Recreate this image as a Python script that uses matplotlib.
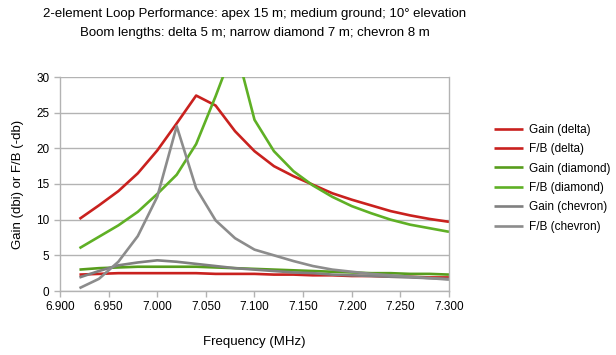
import matplotlib
matplotlib.use("Agg")
import matplotlib.pyplot as plt
import numpy as np

plt.rcParams['font.family'] = ['Liberation Sans', 'DejaVu Sans']

freq = [6.92, 6.94, 6.96, 6.98, 7.00, 7.02, 7.04, 7.06, 7.08, 7.10,
        7.12, 7.14, 7.16, 7.18, 7.20, 7.22, 7.24, 7.26, 7.28, 7.30]

gain_delta = [2.3, 2.4, 2.5, 2.5, 2.5, 2.5, 2.5, 2.4, 2.4, 2.4,
              2.3, 2.3, 2.2, 2.2, 2.1, 2.1, 2.0, 2.0, 1.9, 1.9]
fb_delta = [10.1, 12.0, 14.0, 16.5, 19.7, 23.5, 27.4, 26.0, 22.4, 19.6,
            17.5, 16.1, 14.9, 13.7, 12.8, 12.0, 11.2, 10.6, 10.1, 9.7]
gain_diamond = [3.0, 3.2, 3.3, 3.4, 3.4, 3.4, 3.4, 3.3, 3.2, 3.1,
                3.0, 2.9, 2.8, 2.7, 2.6, 2.5, 2.5, 2.4, 2.4, 2.3]
fb_diamond = [6.0, 7.6, 9.2, 11.1, 13.6, 16.3, 20.6, 27.3, 34.5, 24.0,
              19.6, 16.8, 14.8, 13.2, 11.9, 10.9, 10.0, 9.3, 8.8, 8.3]
gain_chevron = [1.9, 2.8, 3.6, 4.0, 4.3, 4.1, 3.8, 3.5, 3.2, 3.0,
                2.8, 2.6, 2.5, 2.3, 2.2, 2.1, 2.0, 1.9, 1.8, 1.7]
fb_chevron = [0.4, 1.7, 4.1, 7.7, 13.2, 23.1, 14.4, 9.9, 7.4, 5.8,
              5.0, 4.2, 3.5, 3.0, 2.7, 2.4, 2.2, 2.0, 1.8, 1.6]

series = [
    ("Gain (delta)", gain_delta, "#c9211e"),
    ("F/B (delta)", fb_delta, "#c9211e"),
    ("Gain (diamond)", gain_diamond, "#579d1c"),
    ("F/B (diamond)", fb_diamond, "#5fb025"),
    ("Gain (chevron)", gain_chevron, "#808080"),
    ("F/B (chevron)", fb_chevron, "#8c8c8c"),
]

xticks = [6.90, 6.95, 7.00, 7.05, 7.10, 7.15, 7.20, 7.25, 7.30]
yticks = [0, 5, 10, 15, 20, 25, 30]

W, H = 616, 355
fig = plt.figure(figsize=(W / 100, H / 100), dpi=100)
ax = fig.add_axes([60 / W, 1 - 291 / H, (449 - 60) / W, (291 - 77) / H])

for name, vals, col in series:
    ax.plot(freq, vals, color=col, lw=1.9, label=name, solid_capstyle='butt')

ax.set_xlim(6.90, 7.30)
ax.set_ylim(0, 30)
ax.set_xticks(xticks)
ax.set_xticklabels([f"{v:.3f}" for v in xticks])
ax.set_yticks(yticks)
ax.grid(axis='y', color='#b3b3b3', lw=1)
ax.set_axisbelow(True)
for s in ax.spines.values():
    s.set_color('#b3b3b3')
    s.set_linewidth(1)
ax.spines['top'].set_visible(False)
ax.tick_params(axis='both', colors='#b3b3b3', labelcolor='black',
               labelsize=8.5, length=4, width=1)
ax.tick_params(axis='x', pad=3)

ax.set_xlabel("Frequency (MHz)", fontsize=9.5, labelpad=17)
ax.set_ylabel("Gain (dbi) or F/B (-db)", fontsize=9.5, labelpad=9)

fig.text(255 / W, 1 - 14 / H, "2-element Loop Performance: apex 15 m; medium ground; 10° elevation",
         ha='center', va='center', fontsize=9.5)
fig.text(255 / W, 1 - 33 / H, "Boom lengths: delta 5 m; narrow diamond 7 m; chevron 8 m",
         ha='center', va='center', fontsize=9.5)

leg = ax.legend(loc='upper left', bbox_to_anchor=(489 / W, 1 - 119 / H),
                bbox_transform=fig.transFigure, frameon=False, fontsize=8.5,
                handlelength=2.5, handletextpad=0.45, labelspacing=0.63,
                borderaxespad=0)

fig.savefig("out.png", dpi=100)
